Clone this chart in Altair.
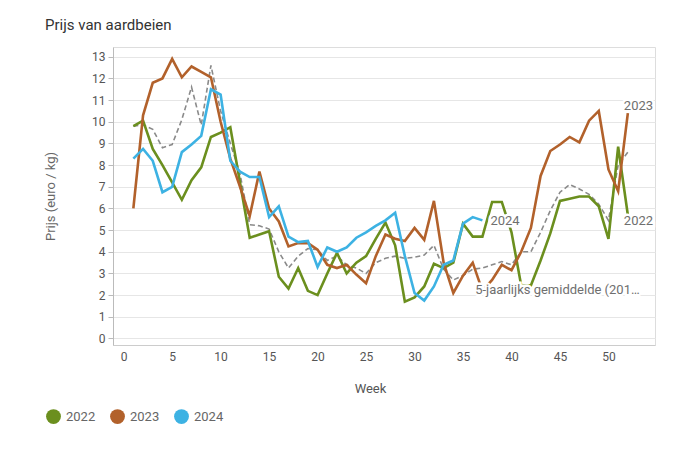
import altair as alt
import pandas as pd

FONT = "Roboto"

weeks = list(range(1, 53))
p2022 = [9.8, 10.05, 8.75, 8.0, 7.2, 6.4, 7.3, 7.9, 9.3, 9.5,
         9.75, 7.2, 4.65, 4.8, 4.95, 2.85, 2.3, 3.25, 2.2, 2.0,
         3.0, 3.95, 3.0, 3.5, 3.8, 4.6, 5.35, 4.3, 1.7, 1.9,
         2.4, 3.45, 3.25, 3.5, 5.3, 4.7, 4.7, 6.3, 6.3, 4.9,
         2.45, 2.45, 3.6, 4.85, 6.35, 6.45, 6.55, 6.55, 6.1, 4.6,
         8.85, 5.7]
p2023 = [6.0, 10.3, 11.8, 12.0, 12.9, 12.05, 12.55, 12.3, 12.05, 10.0,
         8.3, 7.0, 5.65, 7.7, 6.0, 5.4, 4.25, 4.4, 4.4, 4.1,
         3.4, 3.25, 3.4, 2.95, 2.55, 3.8, 4.8, 4.6, 4.5, 5.1,
         4.55, 6.35, 3.5, 2.1, 2.9, 3.5, 2.2, 2.7, 3.4, 3.15,
         4.0, 5.1, 7.5, 8.65, 8.95, 9.3, 9.05, 10.05, 10.5, 7.8,
         6.8, 10.4]
p2024 = [8.3, 8.75, 8.2, 6.75, 7.0, 8.6, 8.95, 9.35, 11.5, 11.25,
         8.2, 7.7, 7.45, 7.45, 5.6, 6.1, 4.7, 4.45, 4.5, 3.3,
         4.2, 4.0, 4.2, 4.65, 4.9, 5.2, 5.45, 5.8, 3.8, 2.1,
         1.75, 2.4, 3.4, 3.6, 5.3, 5.6, 5.45]
gemiddeld = [9.8, 9.85, 9.65, 8.8, 8.95, 10.1, 11.6, 9.85, 12.6, 10.5,
             9.0, 7.6, 5.25, 5.2, 5.05, 4.0, 3.25, 3.8, 4.15, 4.1,
             3.6, 3.8, 3.4, 3.25, 3.0, 3.5, 3.7, 3.8, 3.7, 3.75,
             3.85, 4.3, 3.2, 2.7, 2.9, 3.2, 3.25, 3.4, 3.55, 3.4,
             4.0, 4.0, 4.9, 5.9, 6.75, 7.1, 6.9, 6.65, 6.2, 5.45,
             8.0, 8.6]

jaren = ["2022", "2023", "2024"]
kleuren = ["#6b8f1e", "#b2612b", "#3db2e3"]

rows = []
for jaar, vals in zip(jaren, [p2022, p2023, p2024]):
    for w, v in zip(weeks, vals):
        rows.append({"week": w, "prijs": v, "jaar": jaar})
df = pd.DataFrame(rows)
avg_df = pd.DataFrame({"week": weeks, "prijs": gemiddeld})

xscale = alt.Scale(domain=[-1.1, 54.8], nice=False, zero=False)
yscale = alt.Scale(domain=[-0.3, 13.45], nice=False, zero=False)
cscale = alt.Scale(domain=jaren, range=kleuren)

x_axis = alt.Axis(
    values=list(range(0, 51, 5)), title="Week", grid=False,
    domain=True, domainColor="#cccccc", ticks=False, labelOverlap=False,
    labelFont=FONT, labelFontSize=12, labelColor="#555555", labelPadding=6,
    titleFont=FONT, titleFontSize=13, titleColor="#555555",
    titleFontWeight="normal", titleX=257, titleY=43,
    titleBaseline="middle", titleAlign="center")
y_axis = alt.Axis(
    values=list(range(0, 14)), title="Prijs (euro / kg)", grid=True,
    gridColor="#e6e6e6", domain=True, domainColor="#bbbbbb",
    ticks=True, tickColor="#bbbbbb", tickSize=5, labelOverlap=False,
    labelFont=FONT, labelFontSize=12, labelColor="#555555", labelPadding=3,
    titleFont=FONT, titleFontSize=13, titleColor="#666666",
    titleFontWeight="normal", titleAngle=-90, titleX=-63, titleY=149,
    titleAlign="center", titleBaseline="middle")

x_enc = alt.X("week:Q", scale=xscale, axis=x_axis)
y_enc = alt.Y("prijs:Q", scale=yscale, axis=y_axis)

legend = alt.Legend(
    title=None, orient="none", direction="horizontal",
    legendX=-67, legendY=362, symbolType="circle",
    symbolSize=220, symbolStrokeWidth=0, symbolOpacity=1,
    labelFont=FONT, labelFontSize=13, labelColor="#666666",
    labelOffset=5, columnPadding=14)

# invisible points only to carry a filled-circle legend
legend_points = alt.Chart(df).mark_circle(size=0).encode(
    x=x_enc, y=y_enc,
    color=alt.Color("jaar:N", scale=cscale, legend=legend),
)

avg_line = alt.Chart(avg_df).mark_line(
    color="#8a8a8a", strokeWidth=1.6, strokeDash=[5, 3]
).encode(x=x_enc, y=y_enc)

year_lines = alt.Chart(df).mark_line(strokeWidth=2.6).encode(
    x=x_enc, y=y_enc,
    color=alt.Color("jaar:N", scale=cscale, legend=None),
    order="week:Q",
)


def label(week, prijs, tekst, dx, dy):
    d = pd.DataFrame({"week": [week], "prijs": [prijs], "tekst": [tekst]})
    base = alt.Chart(d).encode(
        x=alt.X("week:Q", scale=xscale, axis=x_axis),
        y=alt.Y("prijs:Q", scale=yscale, axis=y_axis), text="tekst:N")
    halo = base.mark_text(align="left", baseline="middle", dx=dx, dy=dy,
                          font=FONT, fontSize=13, fill="white",
                          stroke="white", strokeWidth=5)
    txt = base.mark_text(align="left", baseline="middle", dx=dx, dy=dy,
                         font=FONT, fontSize=13, color="#6f6f6f")
    return [halo, txt]


layers = [legend_points, avg_line, year_lines]
layers += label(weeks[-1], p2023[-1], "2023", -4, -7)
layers += label(weeks[-1], p2022[-1], "2022", -4, 6)
layers += label(weeks[len(p2024) - 1], p2024[-1], "2024", 8, 1)
layers += label(36.25, 2.26, "5-jaarlijks gemiddelde (201\u2026", 0, 0)

chart = alt.layer(*layers).properties(
    width=542, height=298,
    title=alt.TitleParams("Prijs van aardbeien", anchor="start", dx=-68,
                          offset=14, font=FONT, fontSize=15,
                          fontWeight="normal", color="#333333",
                          frame="group"),
    autosize=alt.AutoSizeParams(type="none"),
    padding={"left": 105, "top": 39, "right": 20, "bottom": 95},
).configure_view(stroke=None).configure(background="white")

chart.save("out.html", embed_options={"renderer": "svg", "actions": False})
